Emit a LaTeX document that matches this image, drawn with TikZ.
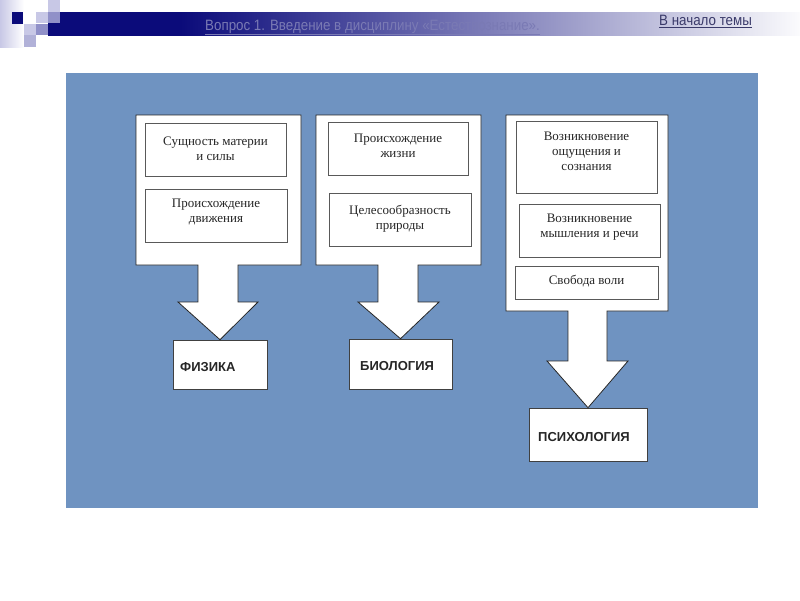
\documentclass[tikz,border=0pt]{standalone}
\usepackage{fontspec}
\setmainfont{Liberation Serif}
\newfontfamily\lsans{Liberation Sans}
\newfontfamily\nsans[FakeStretch=0.89]{Liberation Sans}
\definecolor{panel}{HTML}{6F93C1}
\definecolor{navy}{HTML}{0B0B7A}
\definecolor{lav}{HTML}{C8C8E6}
\definecolor{lavm}{HTML}{9090C8}
\definecolor{hdrtxt}{HTML}{7A7AB4}
\definecolor{toptxt}{HTML}{3A3A6A}
\tikzset{
  outershape/.style={fill=white, draw=black!85, line width=0.8pt, line join=miter},
  innerbox/.style={draw=black!65, fill=white, line width=0.6pt, inner sep=0pt},
  boxtext/.style={font=\fontsize{13}{15}\selectfont, align=center, inner sep=0pt, anchor=north, text=black!85},
  targetbox/.style={draw=black!75, fill=white, line width=0.6pt, inner sep=0pt},
  targettext/.style={font=\lsans\bfseries\fontsize{13}{15}\selectfont, inner sep=0pt, anchor=west, text=black!85},
}
\begin{document}
\begin{tikzpicture}[x=1pt,y=-1pt]
\useasboundingbox (0,0) rectangle (800,600);
\fill[white] (0,0) rectangle (800,600);
% header decoration
\shade[left color=lav, right color=white] (0,0) rectangle (24,47);
\begin{scope}
\clip (48,12) rectangle (800,35.5);
\fill[navy] (40,5) rectangle (181,40);
\shade[left color=navy, right color=navy!45!white] (180,5) rectangle (541,40);
\shade[left color=navy!45!white, right color=white] (540,5) rectangle (810,40);
\end{scope}
\fill[navy] (12,12) rectangle (23,24);
\fill[lav] (36,12) rectangle (48,23);
\fill[lav] (48,0) rectangle (60,12);
\fill[lavm] (48,12) rectangle (60,23);
\fill[lav] (24,24) rectangle (36,35);
\fill[lavm] (36,24) rectangle (48,35);
\fill[lavm!70!white] (24,35) rectangle (36,47);
\node[anchor=base west, inner sep=0pt, text=hdrtxt, font=\nsans\fontsize{15}{17}\selectfont] (hdr) at (205,30) {\underline{Вопрос 1. Введение в дисциплину «Естествознание».}};
\node[anchor=base west, inner sep=0pt, text=toptxt, font=\nsans\fontsize{15}{17}\selectfont] (top) at (659,25.5) {\underline{В начало темы}};
% panel
\fill[panel] (66,73) rectangle (758,508);
% target boxes
\node[targetbox, minimum width=94pt, minimum height=49pt] (fiz) at (220,364.5) {};
\node[targetbox, minimum width=103pt, minimum height=50pt] (bio) at (400.5,364) {};
\node[targetbox, minimum width=118pt, minimum height=53pt] (psy) at (588,434.5) {};
\node[targettext] (fizt) at (180,367) {ФИЗИКА};
\node[targettext] (biot) at (360,366) {БИОЛОГИЯ};
\node[targettext] (psyt) at (538,437) {ПСИХОЛОГИЯ};
% outer shapes with arrows
\draw[outershape] (136,115) -- (301,115) -- (301,265) -- (238,265) -- (238,302) -- (258,302) -- (fiz.north) -- (178,302) -- (198,302) -- (198,265) -- (136,265) -- cycle;
\draw[outershape] (316,115) -- (481,115) -- (481,265) -- (418,265) -- (418,302) -- (439,302) -- (bio.north) -- (358,302) -- (378,302) -- (378,265) -- (316,265) -- cycle;
\draw[outershape] (506,115) -- (668,115) -- (668,311) -- (607,311) -- (607,361) -- (628,361) -- (psy.north) -- (547,361) -- (568,361) -- (568,311) -- (506,311) -- cycle;
% inner boxes
\node[innerbox, minimum width=141pt, minimum height=53pt] (b11) at (215.5,149.5) {};
\node[innerbox, minimum width=142pt, minimum height=53pt] (b12) at (216,215.5) {};
\node[innerbox, minimum width=140pt, minimum height=53pt] (b21) at (398,148.5) {};
\node[innerbox, minimum width=142pt, minimum height=53pt] (b22) at (400,219.5) {};
\node[innerbox, minimum width=141pt, minimum height=72pt] (b31) at (586.5,157) {};
\node[innerbox, minimum width=141pt, minimum height=53pt] (b32) at (589.5,230.5) {};
\node[innerbox, minimum width=143pt, minimum height=33pt] (b33) at (586.5,282.5) {};
\node[boxtext] (t11) at (215.5,137) {Сущность материи\\и силы};
\node[boxtext] (t12) at (216,199) {Происхождение\\движения};
\node[boxtext] (t21) at (398,134) {Происхождение\\жизни};
\node[boxtext] (t22) at (400,205) {Целесообразность\\природы};
\node[boxtext] (t31) at (586.5,132) {Возникновение\\ощущения и\\сознания};
\node[boxtext] (t32) at (589.5,214) {Возникновение\\мышления и речи};
\node[boxtext] (t33) at (586.5,275) {Свобода воли};
\end{tikzpicture}
\end{document}
